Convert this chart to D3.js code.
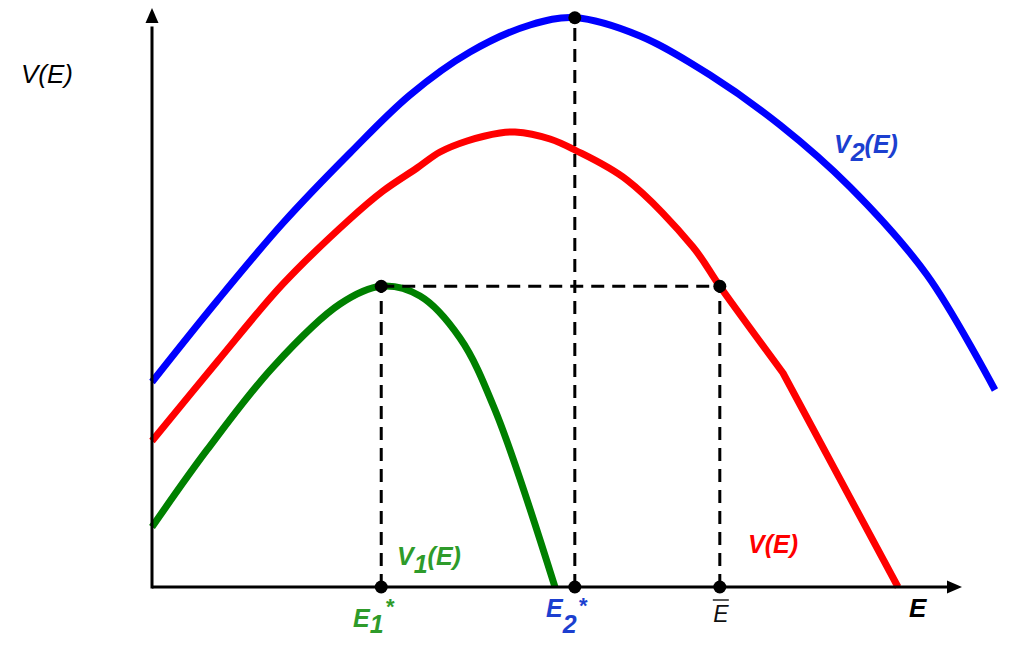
<!DOCTYPE html>
<html>
<head>
<meta charset="utf-8">
<script src="https://cdn.jsdelivr.net/npm/d3@7"></script>
<style>
  html, body { margin: 0; padding: 0; background: #fff; }
  svg { display: block; }
  text { font-family: "Liberation Sans", Arial, sans-serif; }
</style>
</head>
<body>
<svg id="chart" width="1024" height="654"></svg>
<script>
// ---- data (E in % of axis length, V in % of axis height) ----
const blueE = [0, 8.02, 16.17, 24.44, 31.85, 39.26, 46.67, 52.2, 60.25, 68.89, 77.53, 86.17, 95.68, 104.07];
const blueV = [35.65, 49.74, 63.3, 75.48, 85.57, 93.04, 97.74, 99.0, 95.83, 89.04, 80.35, 69.57, 54.26, 34.26];

// red: smooth part, then a straight stretch after the kink
const redE = [0, 8.02, 16.17, 24.44, 28.52, 32.72, 35.56, 38.89, 42.96, 44.81, 49.14, 52.2, 58.64, 66.79, 70.1, 77.9];
const redV = [25.39, 39.13, 52.7, 64.0, 68.87, 72.87, 75.65, 77.57, 78.96, 79.13, 77.91, 76.0, 70.78, 59.13, 52.3, 37.22];
const redTailE = [92.1];
const redTailV = [0];

const greenE = [0, 6.79, 14.94, 23.21, 28.3, 33.09, 38.02, 42.35, 49.75];
const greenV = [10.43, 23.83, 38.26, 49.22, 52.3, 50.61, 43.3, 30.78, 0];

const E1 = 28.3, E2 = 52.2, Ebar = 70.1;
const V1max = 52.3, V2max = 99.0;

// ---- scales ----
const x = d3.scaleLinear().domain([0, 100]).range([152, 962]);
const y = d3.scaleLinear().domain([0, 100]).range([587, 12]);

const svg = d3.select("#chart");

const line = d3.line().x(d => x(d[0])).y(d => y(d[1])).curve(d3.curveCatmullRom.alpha(0.5));

function drawCurve(E, V, color, tailE, tailV) {
  let d = line(E.map((e, i) => [e, V[i]]));
  if (tailE) tailE.forEach((e, i) => { d += `L${x(e)},${y(tailV[i])}`; });
  svg.append("path")
    .attr("d", d)
    .attr("fill", "none")
    .attr("stroke", color)
    .attr("stroke-width", 7)
    .attr("stroke-linecap", "butt")
    .attr("stroke-linejoin", "round");
}

drawCurve(blueE, blueV, "#0000ff");
drawCurve(redE, redV, "#ff0000", redTailE, redTailV);
drawCurve(greenE, greenV, "#008000");

// ---- dashed guides ----
const dashes = [
  [[E1, 0], [E1, V1max]],
  [[E1, V1max], [Ebar, V1max]],
  [[Ebar, 0], [Ebar, V1max]],
  [[E2, 0], [E2, V2max]]
];
svg.selectAll("line.dash").data(dashes).enter().append("line")
  .attr("class", "dash")
  .attr("x1", d => x(d[0][0])).attr("y1", d => y(d[0][1]))
  .attr("x2", d => x(d[1][0])).attr("y2", d => y(d[1][1]))
  .attr("stroke", "#000").attr("stroke-width", 3)
  .attr("stroke-dasharray", "13,8");

// ---- axes ----
svg.append("line")
  .attr("x1", x(0)).attr("y1", y(0)).attr("x2", x(98.3)).attr("y2", y(0))
  .attr("stroke", "#000").attr("stroke-width", 3);
svg.append("line")
  .attr("x1", x(0)).attr("y1", y(0) + 1.5).attr("x2", x(0)).attr("y2", y(97.5))
  .attr("stroke", "#000").attr("stroke-width", 3);
// arrowheads
svg.append("path")
  .attr("d", `M${x(100)},${y(0)} L${x(100) - 15},${y(0) - 6.5} L${x(100) - 15},${y(0) + 6.5} Z`)
  .attr("fill", "#000");
svg.append("path")
  .attr("d", `M${x(0)},${y(100) - 4} L${x(0) - 6.5},${y(100) + 11} L${x(0) + 6.5},${y(100) + 11} Z`)
  .attr("fill", "#000");

// ---- dots ----
const dots = [[E1, V1max], [Ebar, V1max], [E2, V2max], [E1, 0], [E2, 0], [Ebar, 0]];
svg.selectAll("circle").data(dots).enter().append("circle")
  .attr("cx", d => x(d[0])).attr("cy", d => y(d[1])).attr("r", 6.5)
  .attr("fill", "#000");

// ---- labels ----
function subLabel(px, py, main, sub, tail, color, size, bold, dySub) {
  const t = svg.append("text")
    .attr("x", px).attr("y", py)
    .attr("fill", color)
    .attr("font-size", size)
    .attr("font-style", "italic")
    .attr("font-weight", bold ? "bold" : "normal");
  t.append("tspan").text(main);
  if (sub) {
    t.append("tspan").attr("dy", dySub).text(sub);
    if (tail) t.append("tspan").attr("dy", -dySub).text(tail);
  } else if (tail) {
    t.append("tspan").text(tail);
  }
  return t;
}

// y axis title
subLabel(21, 83, "V(E)", null, null, "#000", 26, false, 0);
// series labels
subLabel(834, 153, "V", "2", "(E)", "#1c3fd0", 25, true, 8);
subLabel(397, 565, "V", "1", "(E)", "#2e9b2a", 25, true, 8);
subLabel(748, 553, "V(E)", null, null, "#ff0000", 25, true, 0);
// x axis title
subLabel(909, 617, "E", null, null, "#000", 26, true, 0);

// tick labels
subLabel(353, 627, "E", "1", null, "#2e9b2a", 25, true, 6);
svg.append("text").attr("x", 386).attr("y", 614).attr("fill", "#2e9b2a")
  .attr("font-size", 22).attr("font-weight", "bold").text("*");
subLabel(546, 617, "E", "2", null, "#1c3fd0", 25, true, 16);
svg.append("text").attr("x", 579).attr("y", 613).attr("fill", "#1c3fd0")
  .attr("font-size", 22).attr("font-weight", "bold").text("*");

// E bar
svg.append("text").attr("x", x(Ebar) + 1).attr("y", 622)
  .attr("text-anchor", "middle")
  .attr("font-family", "'Liberation Serif', 'DejaVu Serif', serif")
  .attr("font-style", "italic")
  .attr("font-size", 23).attr("fill", "#111").text("E");
svg.append("line")
  .attr("x1", x(Ebar) - 7).attr("x2", x(Ebar) + 9)
  .attr("y1", 600).attr("y2", 600)
  .attr("stroke", "#111").attr("stroke-width", 1.4);
</script>
</body>
</html>
